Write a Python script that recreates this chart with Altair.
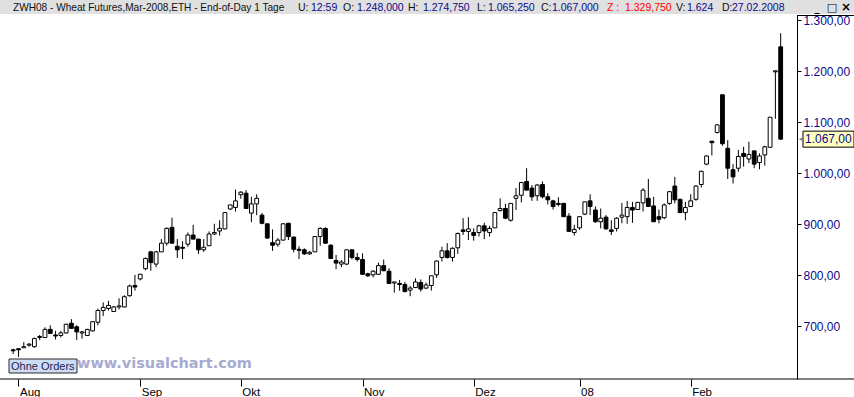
import json
import altair as alt
import pandas as pd

# ---- data ----
opens = [654, 656, 658, 663, 660, 678, 678, 694, 683, 682, 687, 706, 699, 687, 682, 691, 708, 731, 735, 729,
         738, 738, 760, 780, 793, 813, 846, 822, 846, 863, 894, 857, 855, 861, 879, 871, 850, 858, 881, 887,
         891, 930, 933, 958, 961, 922, 940, 918, 901, 864, 861, 869, 902, 875, 851, 850, 842, 846, 876, 892,
         859, 829, 822, 822, 850, 835, 831, 803, 801, 802, 819, 808, 785, 784, 782, 771, 776, 786, 775, 780,
         801, 835, 848, 835, 854, 889, 886, 884, 884, 897, 884, 893, 927, 931, 908, 951, 957, 984, 971, 956,
         978, 954, 946, 941, 941, 916, 884, 893, 920, 946, 928, 905, 914, 889, 892, 914, 915, 933, 929, 942,
         951, 936, 915, 913, 941, 975, 949, 923, 935, 949, 978, 1018, 1063, 1080, 1154, 1049, 1007, 1010, 1039, 1028,
         1044, 1021, 1036, 1051, 1199, 1248]
highs = [656, 657, 669, 667, 678, 683, 698, 702, 691, 691, 705, 714, 702, 691, 695, 710, 735, 747, 750, 740,
         755, 761, 782, 801, 803, 835, 848, 848, 871, 894, 913, 871, 867, 884, 899, 871, 871, 886, 901, 908,
         924, 938, 968, 965, 967, 954, 959, 922, 901, 890, 873, 902, 903, 876, 857, 853, 848, 877, 894, 894,
         861, 840, 830, 851, 850, 844, 843, 805, 810, 825, 831, 814, 787, 791, 787, 779, 794, 792, 786, 799,
         829, 856, 863, 855, 884, 912, 914, 892, 899, 903, 897, 924, 951, 940, 941, 971, 983, 1010, 977, 979,
         984, 961, 948, 953, 942, 922, 899, 916, 944, 959, 935, 931, 918, 908, 914, 942, 946, 944, 944, 971,
         989, 954, 929, 941, 965, 993, 950, 944, 959, 977, 1005, 1035, 1063, 1096, 1154, 1065, 1018, 1046, 1052, 1062,
         1044, 1039, 1054, 1110, 1201, 1274.75]
lows = [646, 640, 658, 660, 658, 673, 677, 685, 674, 678, 686, 695, 673, 676, 681, 690, 702, 720, 731, 728,
        733, 737, 758, 770, 790, 810, 809, 816, 846, 858, 862, 834, 832, 856, 871, 842, 846, 858, 879, 878,
        890, 928, 925, 950, 931, 904, 918, 900, 872, 848, 856, 869, 869, 845, 832, 840, 840, 846, 858, 862,
        833, 812, 816, 820, 831, 827, 801, 797, 796, 801, 808, 783, 766, 770, 767, 759, 775, 768, 773, 770,
        795, 827, 833, 827, 842, 879, 869, 868, 876, 871, 876, 893, 925, 910, 905, 928, 943, 967, 946, 946,
        951, 939, 929, 935, 914, 885, 878, 889, 918, 918, 903, 892, 890, 879, 886, 902, 901, 903, 928, 925,
        935, 905, 902, 910, 938, 941, 922, 908, 935, 946, 972, 1016, 1035, 1078, 1054, 989, 980, 1003, 1013, 1020,
        1010, 1008, 1015, 1050, 1107, 1065.25]
closes = [652, 654, 660, 665, 676, 680, 694, 686, 681, 687, 704, 696, 689, 689, 694, 709, 731, 737, 741, 738,
          740, 758, 779, 777, 802, 833, 825, 846, 863, 892, 863, 850, 853, 879, 871, 850, 855, 881, 884, 892,
          923, 938, 946, 963, 931, 940, 951, 902, 873, 859, 869, 901, 876, 851, 849, 842, 845, 876, 892, 863,
          833, 824, 826, 850, 835, 831, 802, 799, 808, 819, 809, 784, 787, 782, 768, 775, 787, 773, 781, 799,
          828, 848, 835, 853, 882, 886, 891, 878, 897, 887, 892, 923, 931, 912, 941, 956, 982, 967, 954, 977,
          954, 948, 935, 939, 915, 886, 890, 915, 944, 935, 905, 912, 891, 886, 912, 918, 933, 928, 943, 967,
          935, 905, 910, 938, 964, 948, 923, 933, 946, 975, 1004, 1034, 1060, 1095, 1058, 1010, 993, 1033, 1033, 1037,
          1018, 1034, 1052, 1110, 1201, 1067]

month_pos = [1, 24, 43, 66, 87, 107, 128]
month_labels = ["Aug", "Sep", "Okt", "Nov", "Dez", "08", "Feb"]
price_ticks = [700, 800, 900, 1000, 1100, 1200, 1300]

header_labels = ["ZWH08 - Wheat Futures,Mar-2008,ETH - End-of-Day 1 Tage",
                 "U:", "12:59", "O:", "1.248,000", "H:", "1.274,750", "L:", "1.065,250",
                 "C:", "1.067,000", "Z : ", "1.329,750", "V:", "1.624", "D:", "27.02.2008"]

# ---- layout / style ----
W, H = 797, 364
PAD = {"left": 0, "top": 15, "right": 57, "bottom": 18}
X_DOMAIN = [-1.55, 147.14]
Y_DOMAIN = [596.7, 1310.4]
NAVY = "#0a0a8c"
header_x = [13, 298, 311, 343, 357, 408, 423, 477, 488, 541, 552, 607, 625, 676, 687, 722, 732]
header_fs = [10.1, 10.5, 10.5, 10.5, 10.5, 10.5, 10.5, 10.5, 10.5, 10.5, 10.5, 10.5, 10.5, 10.5, 10.5, 10.5, 10.5]
header_col = ["#111111", "#111111", NAVY, "#111111", NAVY, "#111111", NAVY, "#111111", NAVY,
              "#111111", NAVY, "#ff0000", "#ff0000", "#111111", NAVY, "#111111", NAVY]
FONT = "Liberation Sans"
DE_FMT = "replace(replace(replace(format({v}, ',.2f'), ',', '#'), '.', ','), '#', '.')"

n = len(opens)
df = pd.DataFrame({"i": list(range(n)), "open": opens, "high": highs, "low": lows, "close": closes})
one = pd.DataFrame({"a": [0]})

xs = alt.Scale(domain=X_DOMAIN, nice=False, zero=False)
ys = alt.Scale(domain=Y_DOMAIN, nice=False, zero=False)

x_label_expr = f"{json.dumps(month_labels)}[indexof({json.dumps(month_pos)}, datum.value)]"
y_label_expr = DE_FMT.format(v="datum.value")

base = alt.Chart(df)

wicks = base.mark_rule(color="black", strokeWidth=1).encode(
    x=alt.X("i:Q", scale=xs, axis=alt.Axis(
        values=month_pos, labelExpr=x_label_expr, title=None, grid=False, domain=False,
        tickSize=7, tickColor="black", tickWidth=1, labelAlign="left", labelBaseline="top",
        labelPadding=0, labelOffset=1, labelFontSize=11.5, labelFont=FONT, labelColor="black",
        labelFlush=False, labelOverlap=False)),
    y=alt.Y("low:Q", scale=ys, axis=alt.Axis(
        orient="right", values=price_ticks, labelExpr=y_label_expr, title=None, grid=False,
        domainColor="black", domainWidth=1, tickColor="black", tickSize=4, tickWidth=1,
        labelPadding=2, labelFontSize=12, labelFont=FONT, labelColor=NAVY,
        labelFlush=False, labelOverlap=False)),
    y2="high:Q",
)

bodies = base.mark_bar(size=3.8, stroke="black", strokeWidth=1).encode(
    x=alt.X("i:Q", scale=xs),
    y=alt.Y("open:Q", scale=ys),
    y2="close:Q",
    fill=alt.condition("datum.close >= datum.open", alt.value("white"), alt.value("black")),
)

header_bg = alt.Chart(one).mark_rect(color="#e0e0e0").encode(
    x=alt.value(0), x2=alt.value(854), y=alt.value(-15), y2=alt.value(-1))

header_texts = [
    alt.Chart(one).mark_text(text=t, align="left", baseline="alphabetic", fontSize=fs,
                             font=FONT, color=c).encode(x=alt.value(px), y=alt.value(-4))
    for t, px, c, fs in zip(header_labels, header_x, header_col, header_fs)
]

buttons = [
    alt.Chart(one).mark_text(text=t, align="center", baseline="alphabetic", fontSize=fs,
                             font="DejaVu Sans", fontWeight="bold", color="black").encode(
        x=alt.value(px), y=alt.value(-4))
    for t, px, fs in [("_", 817, 10), ("□", 832, 11), ("×", 846, 12)]
]

bottom_line = alt.Chart(one).mark_rule(color="black", strokeWidth=1).encode(
    x=alt.value(0), x2=alt.value(854), y=alt.value(H))
top_box_line = alt.Chart(one).mark_rule(color="black", strokeWidth=1).encode(
    x=alt.value(W), x2=alt.value(854), y=alt.value(0.5))

orders_box = alt.Chart(one).mark_rect(fill="#cddcf3", stroke="#2a2a2a", strokeWidth=1).encode(
    x=alt.value(9), x2=alt.value(77), y=alt.value(344), y2=alt.value(358))
orders_text = alt.Chart(one).mark_text(text="Ohne Orders", align="left", baseline="middle",
                                       fontSize=11, font=FONT, color="#1c2450").encode(
    x=alt.value(11), y=alt.value(351.5))
watermark = alt.Chart(one).mark_text(text="www.visualchart.com", align="left", baseline="middle",
                                     fontSize=14.5, font="DejaVu Sans", fontWeight="bold",
                                     color="#a7abcf").encode(x=alt.value(77), y=alt.value(349))

last = base.transform_filter(f"datum.i == {n - 1}")
last_box = last.mark_point(
    shape="M-1,-0.314L1,-0.314L1,0.314L-1,0.314Z", size=2601, filled=True,
    fill="#ffffc0", stroke="black", strokeWidth=1, opacity=1).encode(
    x=alt.value(828.5), y=alt.Y("close:Q", scale=ys))
last_text = last.transform_calculate(lbl=DE_FMT.format(v="datum.close")).mark_text(
    align="left", baseline="middle", fontSize=12, font=FONT, color=NAVY).encode(
    x=alt.value(805), y=alt.Y("close:Q", scale=ys), text="lbl:N")
last_arrow = last.mark_point(shape="triangle-left", size=14, filled=True, color="#555555").encode(
    x=alt.value(800.5), y=alt.Y("close:Q", scale=ys))

chart = alt.layer(
    header_bg, *header_texts, *buttons, watermark, orders_box, orders_text,
    wicks, bodies, bottom_line, top_box_line, last_box, last_text, last_arrow,
).properties(
    width=W, height=H, padding=PAD, background="white",
    autosize=alt.AutoSizeParams(type="none"),
).configure_view(strokeWidth=0)

chart.save("out.html", embed_options={"renderer": "svg", "actions": False})
